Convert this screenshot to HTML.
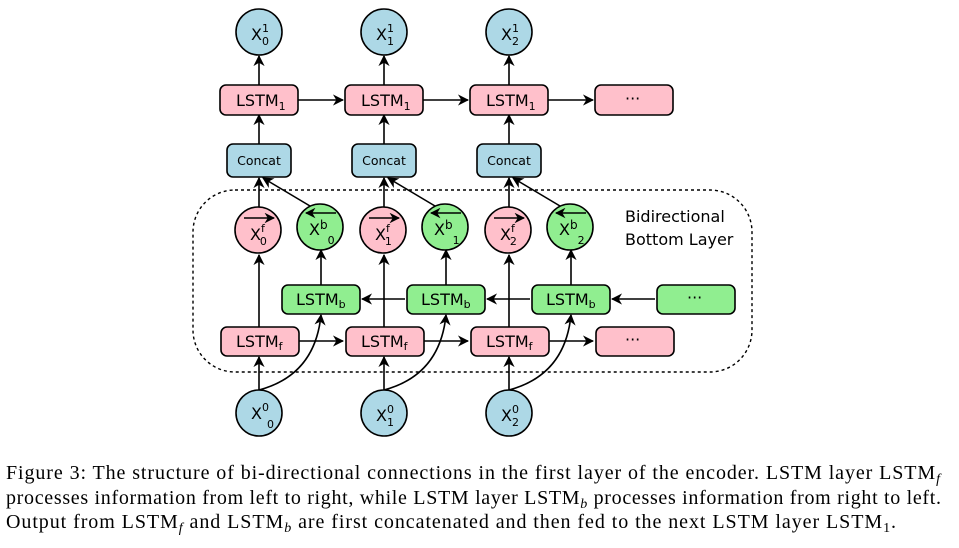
<!DOCTYPE html>
<html><head><meta charset="utf-8"><style>
body{margin:0;background:#fff;width:959px;height:548px;overflow:hidden}
svg text{font-family:"DejaVu Sans","Liberation Sans",sans-serif;fill:#000}
svg text.c{font-family:"Liberation Serif",serif;font-size:20px}
</style></head><body>
<svg width="959" height="548" style="position:absolute;left:0;top:0">
<defs><marker id="a" viewBox="0 0 10 10" refX="9" refY="5" markerWidth="7" markerHeight="7" orient="auto"><path d="M0,0 L10,5 L0,10 L3,5z" fill="#000"/></marker></defs>
<g stroke="#000" stroke-width="1.6" fill="none">
<rect x="193" y="190" width="559" height="182" rx="42" stroke-dasharray="3,3" stroke-width="1.4"/>
</g>
<g stroke="#000" stroke-width="1.6" fill="none" marker-end="url(#a)">
<line x1="259" y1="85" x2="259" y2="56"/><line x1="259" y1="144" x2="259" y2="115"/>
<line x1="259" y1="207" x2="259" y2="178"/><line x1="310" y1="206" x2="263" y2="178"/>
<line x1="259" y1="327" x2="259" y2="255"/><line x1="321" y1="285" x2="321" y2="250"/>
<line x1="259" y1="390" x2="259" y2="357"/><path d="M259,390 Q315,375 321,315"/>
<line x1="298" y1="100" x2="343" y2="100"/><line x1="299" y1="341" x2="343" y2="341"/>
<line x1="405" y1="299" x2="362" y2="299"/>
<line x1="384" y1="85" x2="384" y2="56"/><line x1="384" y1="144" x2="384" y2="115"/>
<line x1="384" y1="207" x2="384" y2="178"/><line x1="435" y1="206" x2="388" y2="178"/>
<line x1="384" y1="327" x2="384" y2="255"/><line x1="446" y1="285" x2="446" y2="250"/>
<line x1="384" y1="390" x2="384" y2="357"/><path d="M384,390 Q440,375 446,315"/>
<line x1="423" y1="100" x2="468" y2="100"/><line x1="424" y1="341" x2="468" y2="341"/>
<line x1="530" y1="299" x2="487" y2="299"/>
<line x1="509" y1="85" x2="509" y2="56"/><line x1="509" y1="144" x2="509" y2="115"/>
<line x1="509" y1="207" x2="509" y2="178"/><line x1="560" y1="206" x2="513" y2="178"/>
<line x1="509" y1="327" x2="509" y2="255"/><line x1="571" y1="285" x2="571" y2="250"/>
<line x1="509" y1="390" x2="509" y2="357"/><path d="M509,390 Q565,375 571,315"/>
<line x1="548" y1="100" x2="593" y2="100"/><line x1="549" y1="341" x2="593" y2="341"/>
<line x1="655" y1="299" x2="612" y2="299"/>
</g>
<g stroke="#000" stroke-width="1.6">
<circle cx="259" cy="32" r="23" fill="#add8e6"/><circle cx="384" cy="32" r="23" fill="#add8e6"/><circle cx="509" cy="32" r="23" fill="#add8e6"/>
<rect x="220" y="85" width="78" height="30" rx="6" fill="#ffc0cb"/><rect x="345" y="85" width="78" height="30" rx="6" fill="#ffc0cb"/><rect x="470" y="85" width="78" height="30" rx="6" fill="#ffc0cb"/><rect x="595" y="85" width="78" height="30" rx="6" fill="#ffc0cb"/>
<rect x="227" y="144" width="64" height="33" rx="6" fill="#add8e6"/><rect x="352" y="144" width="64" height="33" rx="6" fill="#add8e6"/><rect x="477" y="144" width="64" height="33" rx="6" fill="#add8e6"/>
<circle cx="258" cy="230" r="23" fill="#ffc0cb"/><circle cx="383" cy="230" r="23" fill="#ffc0cb"/><circle cx="508" cy="230" r="23" fill="#ffc0cb"/>
<circle cx="320" cy="227" r="23" fill="#90ee90"/><circle cx="445" cy="227" r="23" fill="#90ee90"/><circle cx="570" cy="227" r="23" fill="#90ee90"/>
<rect x="282" y="285" width="78" height="29" rx="6" fill="#90ee90"/><rect x="407" y="285" width="78" height="29" rx="6" fill="#90ee90"/><rect x="532" y="285" width="78" height="29" rx="6" fill="#90ee90"/><rect x="657" y="285" width="78" height="29" rx="6" fill="#90ee90"/>
<rect x="221" y="327" width="78" height="29" rx="6" fill="#ffc0cb"/><rect x="346" y="327" width="78" height="29" rx="6" fill="#ffc0cb"/><rect x="471" y="327" width="78" height="29" rx="6" fill="#ffc0cb"/><rect x="596" y="327" width="78" height="29" rx="6" fill="#ffc0cb"/>
<circle cx="259" cy="413" r="23" fill="#add8e6"/><circle cx="384" cy="413" r="23" fill="#add8e6"/><circle cx="509" cy="413" r="23" fill="#add8e6"/>
</g>
<g stroke="#000" stroke-width="1.5" fill="none" marker-end="url(#a)">
<line x1="244" y1="218" x2="274" y2="218"/><line x1="369" y1="218" x2="399" y2="218"/><line x1="494" y1="218" x2="524" y2="218"/>
<line x1="336" y1="213" x2="306" y2="213"/><line x1="461" y1="213" x2="431" y2="213"/><line x1="586" y1="213" x2="556" y2="213"/>
</g>
<g font-size="16">
<text x="251" y="40">X<tspan font-size="11" dy="-8">1</tspan><tspan font-size="11" dx="-7" dy="13">0</tspan></text>
<text x="376" y="40">X<tspan font-size="11" dy="-8">1</tspan><tspan font-size="11" dx="-7" dy="13">1</tspan></text>
<text x="501" y="40">X<tspan font-size="11" dy="-8">1</tspan><tspan font-size="11" dx="-7" dy="13">2</tspan></text>
<text x="236" y="106">LSTM<tspan font-size="11" dy="4">1</tspan></text>
<text x="361" y="106">LSTM<tspan font-size="11" dy="4">1</tspan></text>
<text x="486" y="106">LSTM<tspan font-size="11" dy="4">1</tspan></text>
<text x="625" y="104">···</text>
<text x="259" y="165" font-size="12.5" text-anchor="middle">Concat</text>
<text x="384" y="165" font-size="12.5" text-anchor="middle">Concat</text>
<text x="509" y="165" font-size="12.5" text-anchor="middle">Concat</text>
<text x="250" y="240">X<tspan font-size="11" dy="-8">f</tspan><tspan font-size="11" dx="-5" dy="13">0</tspan></text>
<text x="375" y="240">X<tspan font-size="11" dy="-8">f</tspan><tspan font-size="11" dx="-5" dy="13">1</tspan></text>
<text x="500" y="240">X<tspan font-size="11" dy="-8">f</tspan><tspan font-size="11" dx="-5" dy="13">2</tspan></text>
<text x="309" y="235">X<tspan font-size="12" dy="-6">b</tspan><tspan font-size="11" dy="15">0</tspan></text>
<text x="434" y="235">X<tspan font-size="12" dy="-6">b</tspan><tspan font-size="11" dy="15">1</tspan></text>
<text x="559" y="235">X<tspan font-size="12" dy="-6">b</tspan><tspan font-size="11" dy="15">2</tspan></text>
<text x="296" y="305">LSTM<tspan font-size="11" dy="3">b</tspan></text>
<text x="421" y="305">LSTM<tspan font-size="11" dy="3">b</tspan></text>
<text x="546" y="305">LSTM<tspan font-size="11" dy="3">b</tspan></text>
<text x="687" y="303">···</text>
<text x="236" y="347">LSTM<tspan font-size="11" dy="3">f</tspan></text>
<text x="361" y="347">LSTM<tspan font-size="11" dy="3">f</tspan></text>
<text x="486" y="347">LSTM<tspan font-size="11" dy="3">f</tspan></text>
<text x="625" y="345">···</text>
<text x="251" y="419">X<tspan font-size="11" dy="-8">0</tspan><tspan font-size="11" dx="-2" dy="17">0</tspan></text>
<text x="376" y="421">X<tspan font-size="11" dy="-8">0</tspan><tspan font-size="11" dx="-7" dy="13">1</tspan></text>
<text x="501" y="421">X<tspan font-size="11" dy="-8">0</tspan><tspan font-size="11" dx="-7" dy="13">2</tspan></text>
<text x="625" y="222">Bidirectional</text>
<text x="625" y="245">Bottom Layer</text>
</g>
<text class="c" x="6" y="479" textLength="934" lengthAdjust="spacing">Figure 3: The structure of bi-directional connections in the first layer of the encoder. LSTM layer LSTM<tspan font-style="italic" font-size="14" dy="4">f</tspan></text>
<text class="c" x="6" y="504" textLength="935" lengthAdjust="spacing">processes information from left to right, while LSTM layer LSTM<tspan font-style="italic" font-size="14" dy="4">b</tspan><tspan dy="-4"> processes information from right to left.</tspan></text>
<text class="c" x="6" y="528" textLength="890" lengthAdjust="spacing">Output from LSTM<tspan font-style="italic" font-size="14" dy="4">f</tspan><tspan dy="-4"> and LSTM</tspan><tspan font-style="italic" font-size="14" dy="4">b</tspan><tspan dy="-4"> are first concatenated and then fed to the next LSTM layer LSTM</tspan><tspan font-size="14" dy="4">1</tspan><tspan dy="-4">.</tspan></text>
</svg>
</body></html>
